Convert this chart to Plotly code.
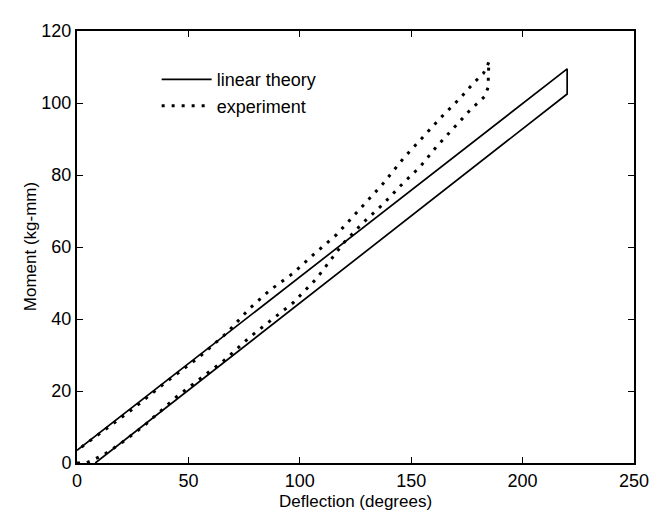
import plotly.graph_objects as go

# Linear theory: loading line, vertical drop at max deflection, unloading line
theory_x = [0, 220, 220, 8.2]
theory_y = [3.5, 109.5, 102.5, 0]

# Experiment: loading branch (lower), then unloading branch (upper) back to the origin
exp_x = [0, 4, 7, 12, 20, 30, 44.7, 55, 66, 77.6, 86.6, 97, 107.6, 119.5, 128, 137.5,
         146, 154, 161.4, 168.9, 176.4, 183, 184.6, 184.6, 185,
         182.4, 177.9, 171.9, 162.9, 155.4, 147, 137.5, 127, 116.6, 106, 97, 86.6,
         77.6, 67, 55, 40, 25, 12, 0]
exp_y = [0, 0, 0.8, 2.3, 5.6, 10.3, 18.4, 23.3, 28.5, 35, 39.5, 44.5, 51.3, 61, 66.5, 72,
         77.5, 82.3, 87.9, 93, 98, 101.8, 104.5, 108.2, 111.5,
         108.2, 105.5, 101.3, 95.7, 90.6, 85, 77.7, 70.7, 63.5, 57.8, 52.7, 48,
         43, 36, 29.5, 22.5, 15, 9, 3.5]

x_ticks = [0, 50, 100, 150, 200, 250]
y_ticks = [0, 20, 40, 60, 80, 100, 120]
x_title = "Deflection (degrees)"
y_title = "Moment (kg-mm)"

font_family = "Liberation Sans, Arial, sans-serif"
fs = 18
fs_title = 17

fig = go.Figure()
fig.add_trace(go.Scatter(
    x=theory_x, y=theory_y, mode="lines", name="linear theory",
    line=dict(color="black", width=1.7), cliponaxis=True))
fig.add_trace(go.Scatter(
    x=exp_x, y=exp_y, mode="lines", name="experiment",
    line=dict(color="black", width=3, dash="3px,7px"), cliponaxis=True))

axis_common = dict(
    showgrid=False, zeroline=False, showline=True, linecolor="black", linewidth=2,
    mirror="ticks", ticks="inside", ticklen=6, tickwidth=1.3, tickcolor="black",
    tickfont=dict(family=font_family, size=fs, color="black"),
)

fig.update_layout(
    width=661, height=512,
    margin=dict(l=69, r=35, t=23, b=57),
    paper_bgcolor="white", plot_bgcolor="white",
    font=dict(family=font_family, size=fs, color="black"),
    showlegend=True,
    legend=dict(x=0.143, y=0.93, xanchor="left", yanchor="top",
                bgcolor="rgba(0,0,0,0)", borderwidth=0, itemwidth=50,
                font=dict(family=font_family, size=fs, color="black"),
                tracegroupgap=0),
    xaxis=dict(range=[0, 250], tickvals=x_ticks, automargin=False, **axis_common),
    yaxis=dict(range=[0, 120], tickvals=y_ticks, automargin=False, **axis_common),
    annotations=[
        dict(text=x_title, xref="paper", yref="paper", x=0.5, y=-0.089,
             xanchor="center", yanchor="middle", showarrow=False,
             font=dict(family=font_family, size=fs_title, color="black")),
        dict(text=y_title, xref="paper", yref="paper", x=-0.084, y=0.5,
             xanchor="center", yanchor="middle", showarrow=False, textangle=-90,
             font=dict(family=font_family, size=fs_title, color="black")),
    ],
)

fig.write_html("out.html")
